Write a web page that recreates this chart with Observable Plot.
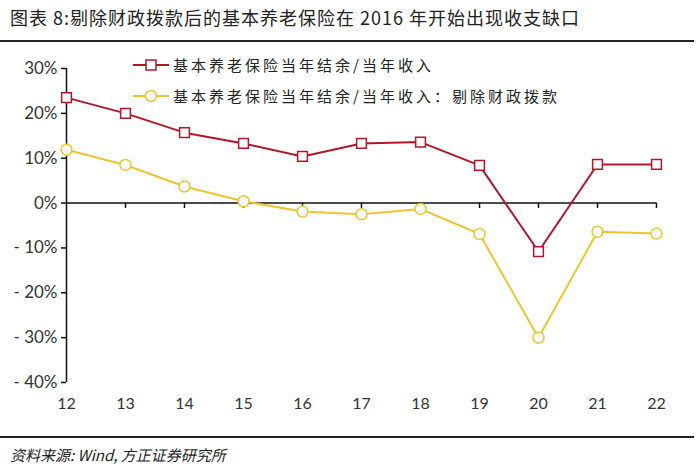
<!DOCTYPE html>
<html><head><meta charset="utf-8">
<script src="https://cdn.jsdelivr.net/npm/d3@7"></script>
<script src="https://cdn.jsdelivr.net/npm/@observablehq/plot@0.6"></script>
<style>
body{margin:0;background:#fff;width:700px;height:471px;overflow:hidden;font-family:"Noto Sans CJK SC",sans-serif;position:relative}
#title{position:absolute;left:0;top:0;width:684px;height:40px;border-bottom:2px solid #222;font-size:18px;letter-spacing:1px;color:#222;line-height:34px;padding-left:10px}
#chart{position:absolute;left:0;top:44px}
#cap{position:absolute;left:0;top:436px;width:684px;border-top:2px solid #222;font-size:15px;font-style:italic;color:#222;padding-left:10px;line-height:34px}
.leg{position:absolute;left:133px;font-size:15px;color:#222;display:flex;align-items:center;letter-spacing:3px}
.leg svg{margin-right:4px}
</style></head><body>
<div id="title">图表 8:剔除财政拨款后的基本养老保险在 2016 年开始出现收支缺口</div>
<div id="chart"></div>
<div class="leg" style="top:54px"><svg width="36" height="14"><line x1="0" y1="7" x2="36" y2="7" stroke="#B0182A" stroke-width="2"/><rect x="13" y="2" width="10" height="10" fill="#fff" stroke="#B0182A" stroke-width="1.5"/></svg><span id="l1"></span></div>
<div class="leg" style="top:85px"><svg width="36" height="14"><line x1="0" y1="7" x2="36" y2="7" stroke="#EDC431" stroke-width="2"/><circle cx="18" cy="7" r="5.5" fill="#fff" stroke="#EDC431" stroke-width="1.5"/></svg><span id="l2"></span></div>
<div id="cap">资料来源: Wind, 方正证券研究所</div>
<script>
const years = [12,13,14,15,16,17,18,19,20,21,22];
const ratio = [23.5,20.0,15.7,13.3,10.4,13.3,13.6,8.4,-10.8,8.6,8.6];
const ratioExcl = [11.9,8.5,3.7,0.4,-1.9,-2.5,-1.3,-6.9,-30.0,-6.4,-6.8];
const seriesNames = ["基本养老保险当年结余/当年收入","基本养老保险当年结余/当年收入：剔除财政拨款"];
const yTicks = [-40,-30,-20,-10,0,10,20,30];
document.getElementById("l1").textContent = seriesNames[0];
document.getElementById("l2").textContent = seriesNames[1];
const red = "#B0182A", yellow = "#EDC431";
const d1 = years.map((x,i)=>({x, y: ratio[i]}));
const d2 = years.map((x,i)=>({x, y: ratioExcl[i]}));
const chart = Plot.plot({
  width: 700, height: 390,
  marginLeft: 66, marginRight: 44, marginTop: 24, marginBottom: 52,
  style: {fontFamily: "Lato, 'DejaVu Sans', sans-serif", color: "#333", background: "#fff"},
  x: {type: "linear", domain: [12,22], axis: null},
  y: {domain: [-40,30], axis: null},
  marks: [
    Plot.axisX(years, {anchor: "bottom", label: null, tickSize: 0, tickPadding: 15, fontSize: 16, tickFormat: d => String(d), fill: "#333"}),
    Plot.axisY(yTicks, {anchor: "left", label: null, tickSize: 5, tickPadding: 4, fontSize: 17, tickFormat: d => d < 0 ? "- " + (-d) + "%" : d + "%", fill: "#333", stroke: "#111", strokeWidth: 1.5}),
    Plot.ruleX([12], {y1: -40, y2: 30, stroke: "#111", strokeWidth: 1.5}),
    Plot.ruleY([0], {x1: 12, x2: 22, stroke: "#111", strokeWidth: 1.5}),
    Plot.ruleX(years.slice(1), {x: d => d, y1: 0, y2: -1.2, stroke: "#111", strokeWidth: 1.5}),
    Plot.line(d1, {x: "x", y: "y", stroke: red, strokeWidth: 2}),
    Plot.line(d2, {x: "x", y: "y", stroke: yellow, strokeWidth: 2}),
    Plot.dot(d1, {x: "x", y: "y", symbol: "square", r: 5.5, fill: "#fff", stroke: red, strokeWidth: 1.5}),
    Plot.dot(d2, {x: "x", y: "y", symbol: "circle", r: 5.5, fill: "#fff", stroke: yellow, strokeWidth: 1.5})
  ]
});
document.getElementById("chart").append(chart);
</script>
</body></html>
